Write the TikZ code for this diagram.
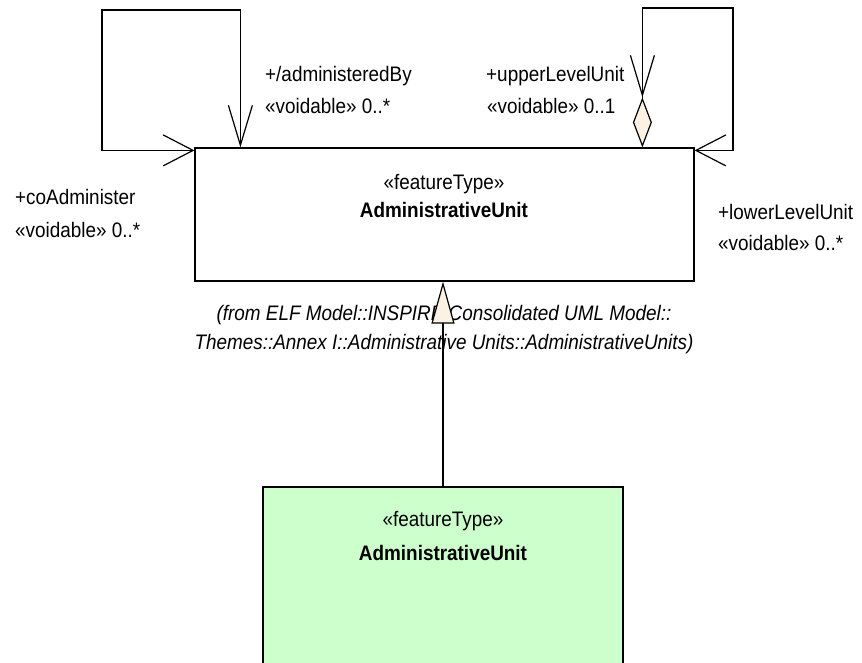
\documentclass[tikz,border=0pt]{standalone}
\usepackage{fontspec}
\setmainfont{Liberation Sans}[FakeStretch=0.9]
\usetikzlibrary{arrows.meta, calc}

\definecolor{childgreen}{HTML}{CCFFCC}
\definecolor{tipbeige}{HTML}{FCF2E3}

\begin{document}
\begin{tikzpicture}[
x=1pt, y=-1pt,
box/.style={rectangle, draw, line width=1.2pt, inner sep=0pt},
lbl/.style={inner sep=0pt, font=\fontsize{21}{28}\selectfont},
assoc/.style={line width=1.2pt},
vbarb/.tip={Straight Barb[length=40pt, width=24pt]},
hbarb/.tip={Straight Barb[length=30pt, width=31pt]}
]
\useasboundingbox (0,0) rectangle (862,663);
\clip (0,0) rectangle (862,663);

% classes
\node[box, minimum width=499pt, minimum height=133pt] (parent) at (444.5,214.5) {};
\node[box, fill=childgreen, minimum width=360pt, minimum height=260pt] (child) at (443,617) {};

\node[lbl, anchor=base] (ptype) at (444,190) {«featureType»};
\node[lbl, anchor=base, font=\fontsize{21}{28}\selectfont\bfseries] (pname) at (444,218) {AdministrativeUnit};
\node[lbl, anchor=base, font=\fontsize{21}{28}\selectfont\itshape] (from1) at (444,320) {(from ELF Model::INSPIRE Consolidated UML Model::};
\node[lbl, anchor=base, font=\fontsize{21}{28}\selectfont\itshape] (from2) at (444,349) {Themes::Annex I::Administrative Units::AdministrativeUnits)};

\node[lbl, anchor=base] (ctype) at (443,526) {«featureType»};
\node[lbl, anchor=base, font=\fontsize{21}{28}\selectfont\bfseries] (cname) at (443,560) {AdministrativeUnit};

% role labels
\node[lbl, anchor=base west] (admrole) at (265,82) {+/administeredBy};
\node[lbl, anchor=base west] (admmult) at (265,114) {«voidable» 0..*};
\node[lbl, anchor=base west] (uprole) at (486,82) {+upperLevelUnit};
\node[lbl, anchor=base west] (upmult) at (487,114) {«voidable» 0..1};
\node[lbl, anchor=base west] (corole) at (15,205) {+coAdminister};
\node[lbl, anchor=base west] (comult) at (15,237) {«voidable» 0..*};
\node[lbl, anchor=base west] (lowrole) at (718,220) {+lowerLevelUnit};
\node[lbl, anchor=base west] (lowmult) at (718,251) {«voidable» 0..*};

% association ends
\coordinate (admTop) at ($(parent.north west)+(46,0)$);
\coordinate (coIn) at ($(parent.north west)+(0,3)$);
\coordinate (upTop) at ($(parent.north west)+(448,0)$);
\coordinate (lowIn) at ($(parent.north east)+(0,3)$);
\coordinate (dmTop) at ($(upTop)+(0,-50)$);

\draw[assoc, vbarb-hbarb] (admTop) |- (102,10) |- (coIn);
\draw[assoc, {Diamond[length=50pt, width=19pt, fill=tipbeige]}-hbarb] (upTop) |- (733,8) |- (lowIn);
\draw[assoc, -vbarb] ($(dmTop)+(0,-42)$) -- (dmTop);

% generalization
\draw[assoc, -{Triangle[length=42pt, width=23pt, fill=tipbeige]}] (child.north) -- (child.north |- parent.south);

\end{tikzpicture}
\end{document}
